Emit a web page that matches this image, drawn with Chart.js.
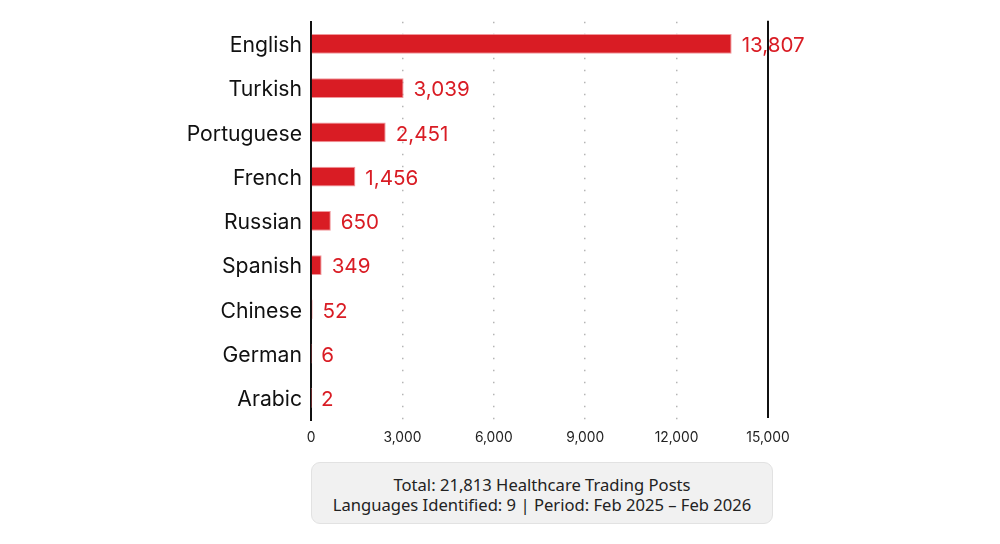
<!DOCTYPE html>
<html>
<head>
<meta charset="utf-8">
<script src="https://cdn.jsdelivr.net/npm/chart.js@4.4.1/dist/chart.umd.min.js"></script>
<style>
  html, body { margin: 0; padding: 0; background: #fff; }
  body { width: 1000px; height: 544px; position: relative; overflow: hidden; }
  #wrap { position: absolute; left: 0; top: 0; width: 1000px; height: 455px; }
  #box {
    position: absolute; left: 311px; top: 462px; width: 460px;
    background: #f1f1f1; border: 1px solid #e2e2e2; border-radius: 9px;
    font-family: "Noto Sans", sans-serif; font-size: 16.6px; color: #222;
    text-align: center; line-height: 20px; box-sizing: content-box;
    display: flex; flex-direction: column; justify-content: center;
    padding-top: 3px; height: 57px;
  }
</style>
</head>
<body>
<div id="wrap"><canvas id="c"></canvas></div>
<div id="box">
  <div>Total: 21,813 Healthcare Trading Posts</div>
  <div>Languages Identified: 9 | Period: Feb 2025 – Feb 2026</div>
</div>
<script>
const languages = ["English", "Turkish", "Portuguese", "French", "Russian", "Spanish", "Chinese", "German", "Arabic"];
const postCounts = [13807, 3039, 2451, 1456, 650, 349, 52, 6, 2];
const xTickValues = [0, 3000, 6000, 9000, 12000, 15000];

const RED = "#d91c24";
const LABEL_FONT = "Inter, 'Noto Sans', sans-serif";

const valueLabels = {
  id: "valueLabels",
  afterDatasetsDraw(chart) {
    const ctx = chart.ctx;
    const meta = chart.getDatasetMeta(0);
    ctx.save();
    ctx.fillStyle = RED;
    ctx.font = "20.6px " + LABEL_FONT;
    ctx.textAlign = "left";
    ctx.textBaseline = "middle";
    meta.data.forEach((bar, i) => {
      ctx.fillText(postCounts[i].toLocaleString("en-US"), bar.x + 10, bar.y + 2);
    });
    ctx.restore();
  }
};

const maxLine = {
  id: "maxLine",
  afterDatasetsDraw(chart) {
    const x = chart.scales.x;
    const area = chart.chartArea;
    const px = x.getPixelForValue(xTickValues[xTickValues.length - 1]);
    const ctx = chart.ctx;
    ctx.save();
    ctx.strokeStyle = "#111";
    ctx.lineWidth = 2;
    ctx.beginPath();
    ctx.moveTo(px, area.top - 1);
    ctx.lineTo(px, area.bottom - 2);
    ctx.stroke();
    ctx.restore();
  }
};

new Chart(document.getElementById("c"), {
  type: "bar",
  data: {
    labels: languages,
    datasets: [{
      data: postCounts,
      backgroundColor: RED,
      borderColor: "rgba(240,140,144,0.9)",
      borderWidth: 1,
      borderSkipped: "left",
      barPercentage: 0.9,
      categoryPercentage: 0.5
    }]
  },
  options: {
    indexAxis: "y",
    responsive: true,
    maintainAspectRatio: false,
    animation: false,
    layout: { padding: { top: 21, right: 232, bottom: 0, left: 0 } },
    plugins: { legend: { display: false }, tooltip: { enabled: false } },
    scales: {
      x: {
        min: 0, max: 15000,
        afterBuildTicks(scale) { scale.ticks = xTickValues.map(v => ({ value: v })); },
        afterFit(scale) { scale.height = 35; },
        ticks: {
          padding: 10,
          color: "#222",
          font: { family: LABEL_FONT, size: 13.8 },
          callback: v => Number(v).toLocaleString("en-US")
        },
        grid: {
          drawTicks: false,
          color: ctx => (ctx.tick && (ctx.tick.value === 0 || ctx.tick.value === 15000)) ? "rgba(0,0,0,0)" : "#b5b5b5",
          lineWidth: 1.5
        },
        border: { display: false, dash: [1.5, 10.5] }
      },
      y: {
        afterFit(scale) { scale.width = 311; },
        ticks: {
          padding: 9,
          labelOffset: 2,
          color: "#111",
          font: { family: LABEL_FONT, size: 21.2 }
        },
        grid: { display: false, drawTicks: false },
        border: { display: true, color: "#111", width: 2 }
      }
    }
  },
  plugins: [valueLabels, maxLine]
});
</script>
</body>
</html>
